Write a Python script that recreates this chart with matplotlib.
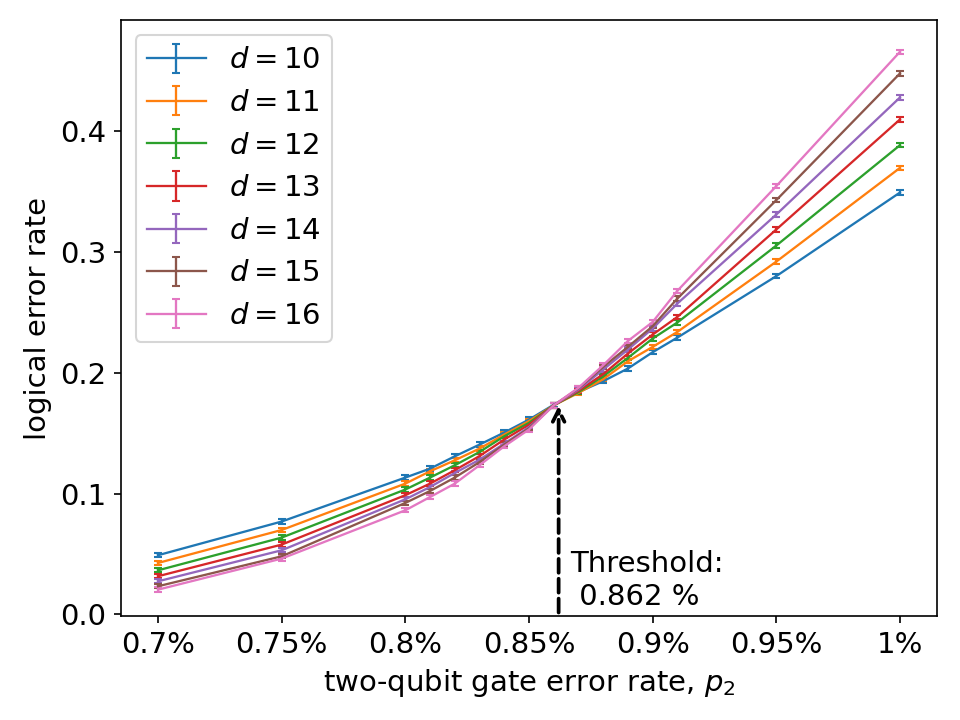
import numpy as np
import matplotlib.pyplot as plt

# two-qubit gate error rate in percent
p2 = [0.70, 0.75, 0.80, 0.81, 0.82, 0.83, 0.84, 0.85, 0.86,
      0.87, 0.88, 0.89, 0.90, 0.91, 0.95, 1.00]

d10 = [0.0489, 0.0768, 0.1132, 0.1206, 0.1308, 0.1405, 0.1505, 0.1612, 0.1735,
       0.1840, 0.1930, 0.2035, 0.2170, 0.2291, 0.2800, 0.3492]
d11 = [0.0425, 0.0698, 0.1082, 0.1184, 0.1275, 0.1372, 0.1488, 0.1600, 0.1730,
       0.1833, 0.1946, 0.2095, 0.2214, 0.2338, 0.2920, 0.3696]
d12 = [0.0364, 0.0635, 0.1033, 0.1132, 0.1234, 0.1344, 0.1474, 0.1585, 0.1730,
       0.1840, 0.1970, 0.2123, 0.2283, 0.2416, 0.3053, 0.3884]
d13 = [0.0315, 0.0577, 0.0986, 0.1082, 0.1193, 0.1310, 0.1447, 0.1570, 0.1730,
       0.1850, 0.1988, 0.2159, 0.2316, 0.2462, 0.3186, 0.4097]
d14 = [0.0273, 0.0530, 0.0952, 0.1054, 0.1170, 0.1280, 0.1413, 0.1550, 0.1730,
       0.1860, 0.2026, 0.2192, 0.2366, 0.2573, 0.3310, 0.4279]
d15 = [0.0232, 0.0480, 0.0922, 0.1021, 0.1132, 0.1260, 0.1405, 0.1540, 0.1730,
       0.1870, 0.2048, 0.2214, 0.2385, 0.2614, 0.3429, 0.4478]
d16 = [0.0204, 0.0461, 0.0861, 0.0971, 0.1082, 0.1234, 0.1391, 0.1530, 0.1730,
       0.1875, 0.2062, 0.2263, 0.2420, 0.2678, 0.3545, 0.4657]

distances = [10, 11, 12, 13, 14, 15, 16]
curves = [d10, d11, d12, d13, d14, d15, d16]
err = 0.0018  # statistical error bar half-width (approx)

threshold = 0.862
thr_y = 0.176

ticks = [0.70, 0.75, 0.80, 0.85, 0.90, 0.95, 1.00]

plt.rcParams['font.size'] = 14
fig, ax = plt.subplots(figsize=(6.4, 4.8), dpi=150)
fig.subplots_adjust(left=0.126, right=0.976, bottom=0.144, top=0.972)

for d, y in zip(distances, curves):
    ax.errorbar(p2, y, yerr=err, capsize=2, lw=1.1, label='$d = %d$' % d)

ax.annotate('', xy=(threshold, thr_y), xytext=(threshold, -0.002),
            arrowprops=dict(arrowstyle='->', linestyle='--', lw=1.8, color='k'))
ax.text(threshold + 0.0045, 0.008, 'Threshold:\n 0.862 %', fontsize=14)

ax.set_xticks(ticks)
ax.set_xticklabels(['%g%%' % t for t in ticks])
ax.set_ylim(-0.0017, 0.492)
ax.set_xlabel('two-qubit gate error rate, $p_2$')
ax.set_ylabel('logical error rate')
ax.legend(loc='upper left')

plt.savefig('out.png')
